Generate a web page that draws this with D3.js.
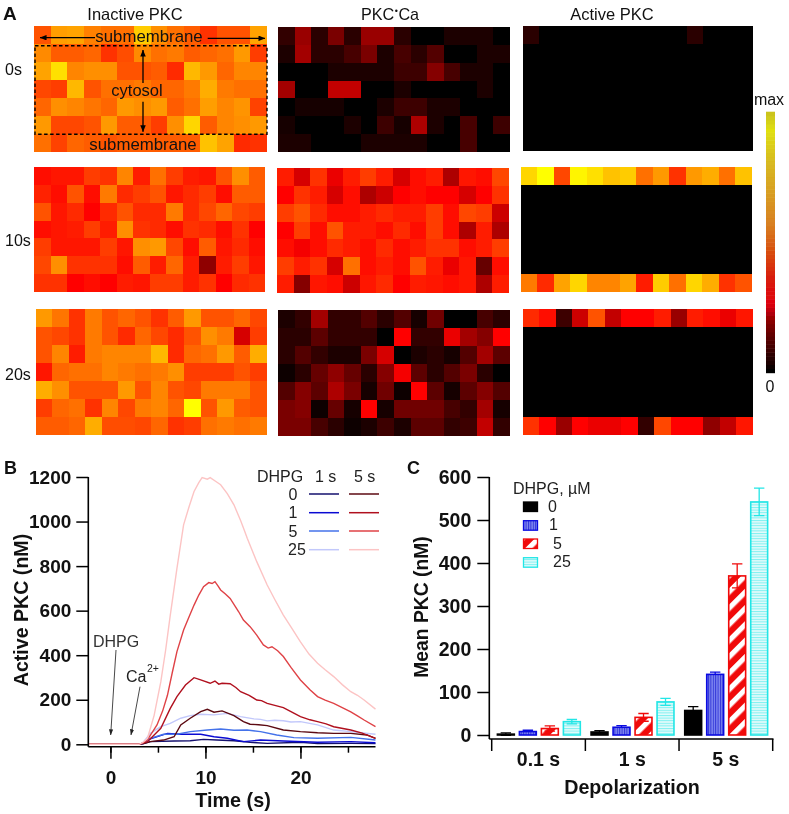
<!DOCTYPE html>
<html><head><meta charset="utf-8">
<script src="https://d3js.org/d3.v7.min.js"></script>
<style>html,body{margin:0;padding:0;background:#fff}svg{display:block;filter:blur(0.3px)}text{font-family:"Liberation Sans",Arial,sans-serif}</style>
</head><body><svg id="c" width="789" height="814"></svg>
<script>
// ---------- Panel A data (0 = black, 50 = pure red, 100 = yellow) ----------
const inactive0 = [
[66,81,82,75,72,72,90,78,72,68,60,66,66,82],
[77,68,68,70,60,65,77,72,74,68,70,72,80,62],
[82,94,76,78,78,66,66,68,58,86,80,70,76,76],
[64,62,86,66,72,72,74,70,70,74,84,74,72,72],
[70,78,76,73,70,80,78,80,68,72,81,76,79,63],
[80,64,64,66,80,68,68,62,78,92,68,76,78,80],
[72,63,70,68,66,68,68,68,68,68,88,82,58,60]];
const complex0 = [
[10,30,8,24,8,30,30,8,0,0,6,6,6,0],
[6,32,8,8,14,24,6,14,8,16,0,0,6,6],
[0,0,0,6,6,6,6,12,12,26,14,6,6,0],
[32,0,0,38,38,0,0,6,0,0,0,0,6,0],
[0,4,4,4,0,0,6,12,12,6,6,0,0,0],
[4,0,0,0,6,0,12,4,34,6,0,14,0,12],
[5,5,0,0,0,5,5,5,5,0,0,14,0,0]];
const zeroRow = [0,0,0,0,0,0,0,0,0,0,0,0,0,0];
const active0 = [[8,0,0,0,0,0,0,0,0,0,8,0,0,0],zeroRow,zeroRow,zeroRow,zeroRow,zeroRow,zeroRow];
const inactive10 = [
[52,54,54,62,60,76,56,72,62,56,54,66,78,68],
[57,52,66,52,74,58,62,66,54,58,62,52,68,68],
[66,54,58,50,58,66,58,58,74,58,64,70,64,62],
[52,54,56,62,56,78,60,58,52,60,58,52,60,50],
[62,54,54,54,62,54,78,80,64,52,68,54,58,52],
[64,78,60,60,60,52,68,56,70,56,28,56,62,54],
[60,60,50,53,50,56,54,62,62,56,60,50,58,60]];
const complex10 = [
[56,42,60,46,56,62,56,42,52,56,34,54,52,64],
[50,60,56,42,52,34,40,50,52,50,50,42,50,60],
[62,66,58,52,52,56,58,56,56,62,52,64,62,40],
[50,62,52,66,56,56,52,58,52,62,52,34,56,34],
[52,48,52,58,56,52,58,52,56,60,60,52,56,62],
[62,56,60,42,72,52,56,52,66,56,46,54,20,52],
[56,26,54,52,40,54,58,50,56,54,52,54,34,56]];
const active10 = [
[92,100,64,98,94,88,90,72,80,60,80,84,72,88],zeroRow,zeroRow,zeroRow,zeroRow,zeroRow,
[74,58,82,92,76,76,82,55,90,72,92,84,60,66]];
const inactive20 = [
[80,73,60,74,66,70,66,60,68,80,66,66,70,64],
[66,64,60,74,66,58,70,64,58,66,78,74,42,62],
[66,76,55,74,76,76,76,86,58,70,72,80,68,84],
[54,70,72,72,76,74,72,74,78,62,62,62,66,62],
[84,78,66,66,66,80,66,76,66,64,74,74,74,66],
[62,70,72,60,76,64,74,76,70,100,66,80,68,66],
[68,68,70,84,65,65,64,70,60,62,72,74,72,74]];
const complex20 = [
[6,10,32,10,10,16,8,16,4,22,0,0,14,8],
[8,8,18,10,10,10,0,50,10,10,46,32,26,50],
[8,16,10,5,5,24,42,0,5,8,4,16,32,18],
[3,8,20,28,20,8,26,48,18,8,16,24,8,0],
[16,26,18,34,24,4,22,3,50,18,4,18,26,16],
[24,26,3,20,4,50,4,22,22,22,14,10,32,4],
[24,24,14,8,3,6,12,6,18,18,10,12,38,10]];
const active20 = [
[58,52,12,40,66,38,50,50,56,30,56,52,46,54],zeroRow,zeroRow,zeroRow,zeroRow,zeroRow,
[60,50,30,50,46,46,50,10,64,50,50,28,38,54]];
const columnTitles = ["Inactive PKC","PKC","Active PKC"];
const timeLabels = ["0s","10s","20s"];

// ---------- Panel B data ----------
const tRise = [-2.3,0,2,3];
const t25_5 = [3.4,3.9,4.6,5.3,5.8,6.3,7,7.7,8.3,8.8,9.3,9.65,10.2,10.5,11.1,11.6,12.3,13,13.7,14.1,14.4,15.4,16.5,17.3,18.2,19.1,20,20.9,21.8,22.6,23.5,24.4,25.3,26,26.7,27.9];
const v25_5 = [8,27,130,280,420,580,790,985,1070,1135,1175,1197,1190,1197,1180,1165,1125,1075,1005,960,925,820,715,650,580,520,460,405,364,335,304,268,236,220,199,158];
const t5_5 = [3.4,3.9,4.9,5.5,6,6.5,7,7.7,8.3,8.8,9.3,9.8,10.35,10.7,11,11.3,11.6,12.1,12.6,13.5,14,14.7,15.4,16.1,16.6,17,17.6,18.2,19,20,21,21.8,22.6,23.5,24.4,25.3,26,26.7,27.9];
const v5_5 = [6,20,87,150,220,320,416,513,575,625,670,708,726,722,730,712,693,675,655,595,558,528,490,446,432,438,420,394,345,289,245,214,198,184,165,146,128,109,79];
const t1_5 = [3.4,3.9,5.3,6.3,7,7.9,8.8,9.5,10.5,11,11.4,11.75,12.6,13.2,13.7,14.6,15.4,15.9,16.5,18.2,19.2,20,21,21.8,22.7,23.5,25.3,26.5,27.9];
const v1_5 = [5,12,72,161,214,266,299,289,274,284,270,274,272,255,236,220,199,196,184,165,142,124,110,102,92,79,64,50,27];
const t0_5 = [3.5,4.2,5.6,6.7,7.4,8.4,9.5,10.2,10.9,11.75,13,14,14.7,15.6,16.5,18.2,20,21.8,23.5,25.3,27,27.9];
const v0_5 = [3,12,19,34,87,117,147,157,144,150,129,102,90,88,84,64,57,52,49,49,42,27];
const t25_1 = [3.4,4.2,5.3,6.3,7.4,8.4,9.5,10.9,12.3,13.7,15.1,15.8,16.5,17.3,18.2,19,20,21.8,23.5,25.3,27.9];
const v25_1 = [6,49,79,94,117,129,135,132,139,124,114,112,105,108,106,100,102,87,64,57,45];
const t5_1 = [3.5,4.2,5.6,7,8.4,10.2,11.6,13,14.4,15.8,17.5,19.3,21.8,25.3,27.9];
const v5_1 = [5,27,45,45,57,64,69,63,64,57,42,30,27,31,19];
const t1_1 = [3.5,4.2,6,7.4,9.5,10.9,12.3,14,15.8,18.2,21.8,25.3,27.9];
const v1_1 = [4,24,49,45,45,34,27,12,19,15,9,12,7];
const t0_1 = [3.5,4.2,6.7,8.4,9.8,11.2,13,14.7,16.5,20,21.8,25.3,27.9];
const v0_1 = [3,12,15,16,22,19,16,9,4,9,3,4,3];
const doses = ["0","1","5","25"];
const colors1s = ["#14106e","#0a0ad2","#4472ea","#c2c8fb"];
const colors5s = ["#5c0a12","#b0101e","#df4246","#fcc4c4"];
const yTicksB = [0,200,400,600,800,1000,1200];
const xTicksB = [0,10,20];
const xMinorB = [0,5,10,15,20,25];

// ---------- Panel C data ----------
const groups = ["0.1 s","1 s","5 s"];
const dose0  = [2,7,57];
const dose1  = [8,18,141];
const dose5  = [15,41,370];
const dose25 = [31,77,542];
const err0  = [3,3,9];
const err1  = [3,4,5];
const err5  = [6,9,28];
const err25 = [5,8,32];
const yTicksC = [0,100,200,300,400,500,600];
const barStroke = ["#000000","#0a0ae0","#f00a0a","#22e6e6"];

const svg = d3.select("#c");
const defs = svg.append("defs");
defs.append("filter").attr("id","soft").attr("x","-2%").attr("y","-2%").attr("width","104%").attr("height","104%")
  .append("feGaussianBlur").attr("stdDeviation",0.6);
const ptn = (id,w,h,rot,bg,draw)=>{
  const p = defs.append("pattern").attr("id",id).attr("patternUnits","userSpaceOnUse").attr("width",w).attr("height",h);
  if(rot) p.attr("patternTransform",`rotate(${rot})`);
  p.append("rect").attr("width",w).attr("height",h).attr("fill",bg);
  draw(p);
};
ptn("pBlue",2.4,4,0,"#8088f0",p=>p.append("rect").attr("width",1).attr("height",4).attr("fill","#3034d8"));
ptn("pRed",11.5,10,45,"#f00a0a",p=>p.append("rect").attr("width",5.2).attr("height",10).attr("fill","#fff"));
ptn("pCyan",4,2.6,0,"#e4fbfb",p=>p.append("rect").attr("width",4).attr("height",1).attr("fill","#80f0f0"));
const fills = ["#000","url(#pBlue)","url(#pRed)","url(#pCyan)"];

// ---------- Panel A ----------
const heat = d3.scaleLinear().domain([0,50,100]).range(["#000000","#ff0000","#ffff00"]).interpolate(d3.interpolateRgb);
const panels = [
 {d:inactive0, x:[34,267], y:[26,152]},
 {d:complex0,  x:[278,510],y:[27,152]},
 {d:active0,   x:[522.7,752.7],y:[26,151]},
 {d:inactive10,x:[34,265], y:[167,292]},
 {d:complex10, x:[277,509],y:[168,293]},
 {d:active10,  x:[520.5,752],y:[167,292]},
 {d:inactive20,x:[35.5,267],y:[309,435]},
 {d:complex20, x:[278,510],y:[310,436]},
 {d:active20,  x:[522.7,752.7],y:[309,435]}];
panels.forEach(p=>{
  const xs = d3.scaleBand().domain(d3.range(14)).range(p.x);
  const ys = d3.scaleBand().domain(d3.range(7)).range(p.y);
  const g = svg.append("g").attr("filter","url(#soft)");
  p.d.forEach((row,r)=>g.selectAll(null).data(row).join("rect")
    .attr("x",(v,c)=>xs(c)).attr("y",ys(r))
    .attr("width",(v,c)=>xs.bandwidth()+(c<13?1:0)).attr("height",ys.bandwidth()+(r<6?1:0))
    .attr("shape-rendering","crispEdges")
    .attr("fill",v=>heat(v)));
});
const txt=(x,y,s,size,o={})=>{
  const t = svg.append("text").attr("x",x).attr("y",y).text(s).attr("font-size",size)
   .attr("fill",o.fill||"#111").attr("text-anchor",o.anchor||"start").attr("dominant-baseline","central");
  if(o.bold) t.attr("font-weight","bold");
  if(o.rotate) t.attr("transform",`rotate(${o.rotate} ${x} ${y})`);
  return t;
};
txt(3,13,"A",19,{bold:true}); txt(4,468,"B",18,{bold:true}); txt(407,468,"C",18,{bold:true});
txt(135,14,columnTitles[0],16.5,{anchor:"middle"});
const pk = txt(390,14,columnTitles[1],16.2,{anchor:"middle"});
pk.append("tspan").text("•").attr("font-size",9).attr("dy",-3).attr("dx",0.5);
pk.append("tspan").text("Ca").attr("dy",3).attr("dx",0.5);
txt(612,14,columnTitles[2],16.5,{anchor:"middle"});
[[5,69],[5,240],[5,374]].forEach((p,i)=>txt(p[0],p[1],timeLabels[i],16));

// overlay on the first panel
defs.append("marker").attr("id","ah").attr("viewBox","0 0 10 8").attr("refX",9.5).attr("refY",4)
  .attr("markerWidth",7).attr("markerHeight",5.5).attr("markerUnits","userSpaceOnUse").attr("orient","auto")
  .append("path").attr("d","M0,0L10,4L0,8Z").attr("fill","#000");
defs.append("marker").attr("id","ah2").attr("viewBox","0 0 10 8").attr("refX",9.5).attr("refY",4)
  .attr("markerWidth",6).attr("markerHeight",6).attr("markerUnits","userSpaceOnUse").attr("orient","auto")
  .append("path").attr("d","M0,0.5L10,4L0,7.5Z").attr("fill","#222");
svg.append("rect").attr("x",35).attr("y",45.7).attr("width",232).attr("height",88.6)
  .attr("fill","none").attr("stroke","#000").attr("stroke-width",1.4).attr("stroke-dasharray","3.5 2.5");
const arrow=(x1,y1,x2,y2,m="ah",w=1.3)=>svg.append("line").attr("x1",x1).attr("y1",y1).attr("x2",x2).attr("y2",y2)
  .attr("stroke",m==="ah"?"#000":"#333").attr("stroke-width",w).attr("marker-end",`url(#${m})`);
arrow(95,37.7,40,37.7); arrow(207.7,38.3,265,38.3); arrow(143,83,143,50); arrow(143,101.7,143,131.7);
txt(149,36.7,"submembrane",16.8,{anchor:"middle"});
txt(137,90,"cytosol",16.5,{anchor:"middle"});
txt(143,144,"submembrane",16.8,{anchor:"middle"});

// colour bar
const barPos = [0,0.19,0.265,0.37,0.47,0.57,0.70,0.83,0.93,1];
const barCol = ["#000000","#800000","#e00010","#d82010","#d85010","#d88020","#d8a020","#d8c020","#e0e010","#c8c020"];
const cb = d3.scaleLinear().domain(barPos).range(barCol);
const cbY = d3.scaleLinear().domain([0,1]).range([372.7,111.7]);
const cbBands = d3.range(64);
svg.append("g").attr("filter","url(#soft)").selectAll("rect").data(cbBands).join("rect")
  .attr("x",766).attr("width",9)
  .attr("y",i=>cbY((i+1)/64)).attr("height",i=>cbY(i/64)-cbY((i+1)/64)+0.5)
  .attr("fill",i=>cb((i+0.5)/64));
txt(769,99,"max",16,{anchor:"middle"});
txt(770,386,"0",16,{anchor:"middle"});

// ---------- Panel B ----------
const xB = d3.scaleLinear().domain([-2.33,27.9]).range([88.3,375.5]);
const yB = d3.scaleLinear().domain([0,1200]).range([744.3,477]);
const line = d3.line().x(d=>xB(d[0])).y(d=>yB(d[1]));
const lineData = (ts,vs)=>tRise.map(t=>[t,0]).concat(ts.map((t,i)=>[t,vs[i]]));
const seriesB = [
 [t0_1,v0_1,colors1s[0]],[t1_1,v1_1,colors1s[1]],[t5_1,v5_1,colors1s[2]],[t25_1,v25_1,colors1s[3]],
 [t0_5,v0_5,colors5s[0]],[t1_5,v1_5,colors5s[1]],[t5_5,v5_5,colors5s[2]],[t25_5,v25_5,colors5s[3]]];
seriesB.forEach(s=>svg.append("path").attr("d",line(lineData(s[0],s[1])))
  .attr("fill","none").attr("stroke",s[2]).attr("stroke-width",1.4));
const yAxB = d3.axisLeft(yB).tickValues(yTicksB).tickSize(12).tickPadding(5).tickFormat(d3.format("d"));
const gy = svg.append("g").attr("transform","translate(88.3,0)").call(yAxB);
const xAxMinor = d3.axisBottom(xB).tickValues(xMinorB).tickSize(6).tickFormat("");
const xAxB = d3.axisBottom(xB).tickValues(xTicksB).tickSize(12).tickPadding(12);
const gx1 = svg.append("g").attr("transform","translate(0,746.7)").call(xAxMinor);
const gx = svg.append("g").attr("transform","translate(0,746.7)").call(xAxB);
[gy,gx,gx1].forEach(g=>{
  g.selectAll("line").attr("stroke","#000").attr("stroke-width",1.5);
  g.selectAll("text").attr("font-size",19).attr("font-weight","bold").attr("fill","#111");
  g.select(".domain").attr("stroke","#000").attr("stroke-width",1.6).attr("d",null);
});
gy.select(".domain").attr("d","M0,477V746.7");
gx.select(".domain").attr("d","M88.3,0H375.5");
gx1.select(".domain").remove();
txt(233,800,"Time (s)",19.8,{anchor:"middle",bold:true});
txt(21,610,"Active PKC (nM)",19.6,{anchor:"middle",bold:true,rotate:-90});
txt(116,641,"DHPG",16,{anchor:"middle",fill:"#333"});
arrow(116,650,110.7,735,"ah2",0.9);
txt(126,676,"Ca",16,{fill:"#222"});
txt(147,668,"2+",10.5,{fill:"#222"});
arrow(140,686.7,131,735,"ah2",0.9);
txt(257,476,"DHPG",16,{fill:"#222"});
txt(315,476,"1 s",16,{fill:"#222"});
txt(354,476,"5 s",16,{fill:"#222"});
const legY = [494,512.7,531,549.7];
const legLab = [293,293,293,297];
doses.forEach((d,i)=>{
  txt(legLab[i],legY[i],d,16,{anchor:"middle",fill:"#222"});
  svg.append("line").attr("x1",309).attr("x2",339).attr("y1",legY[i]).attr("y2",legY[i]).attr("stroke",colors1s[i]).attr("stroke-width",1.5);
  svg.append("line").attr("x1",349).attr("x2",379).attr("y1",legY[i]).attr("y2",legY[i]).attr("stroke",colors5s[i]).attr("stroke-width",1.5);
});

// ---------- Panel C ----------
const seriesC = [dose0,dose1,dose5,dose25];
const errC = [err0,err1,err5,err25];
const xC = d3.scaleBand().domain(groups).range([491.7,772.7]);
const xInner = d3.scaleBand().domain(doses).range([5,89.3]).paddingInner(0.168);
const yC = d3.scaleLinear().domain([0,600]).range([735,477]);
seriesC.forEach((vals,s)=>{
  const g = svg.append("g");
  const cx = i=>xC(groups[i])+xInner(doses[s])+xInner.bandwidth()/2;
  g.selectAll(".e").data(vals).join("path")
    .attr("d",(v,i)=>{const e=errC[s][i],w=5.2;
      return `M${cx(i)-w},${yC(v+e)}H${cx(i)+w}M${cx(i)},${yC(v+e)}V${yC(v-e)}M${cx(i)-w},${yC(v-e)}H${cx(i)+w}`;})
    .attr("fill","none").attr("stroke",barStroke[s]).attr("stroke-width",1.3);
  g.selectAll(".b").data(vals).join("rect")
    .attr("x",(v,i)=>cx(i)-xInner.bandwidth()/2+0.7).attr("width",xInner.bandwidth()-1.4)
    .attr("y",v=>yC(v)).attr("height",v=>yC(0)-yC(v))
    .attr("fill",fills[s]).attr("stroke",barStroke[s]).attr("stroke-width",1.6);
  g.selectAll(".e2").data(vals).join("path")
    .attr("d",(v,i)=>{const e=errC[s][i],w=5.2;
      return s>=2?`M${cx(i)},${yC(v)}V${yC(v-e)}M${cx(i)-w},${yC(v-e)}H${cx(i)+w}`:"";})
    .attr("fill","none").attr("stroke",barStroke[s]).attr("stroke-width",1.3);
});
const gyC = svg.append("g").attr("transform","translate(489.3,0)")
  .call(d3.axisLeft(yC).tickValues(yTicksC).tickSize(12).tickPadding(6));
gyC.select(".domain").attr("d","M0,477V739");
const gxC = svg.append("g").attr("transform","translate(0,739)")
  .call(d3.axisBottom(xC).tickSize(0).tickPadding(13));
gxC.select(".domain").attr("d","M489.3,0H773.5");
gxC.selectAll(".tick").select("line").remove();
const groupEdges = groups.map(g=>xC(g)).concat([xC.range()[1]]);
gxC.selectAll(".edge").data(groupEdges).join("line").attr("class","edge").attr("x1",d=>d).attr("x2",d=>d).attr("y1",0).attr("y2",12);
[gyC,gxC].forEach(g=>{
  g.selectAll("line").attr("stroke","#000").attr("stroke-width",1.5);
  g.selectAll("text").attr("font-size",19.5).attr("font-weight","bold").attr("fill","#111");
  g.select(".domain").attr("stroke","#000").attr("stroke-width",1.6);
});
txt(632,787,"Depolarization",19.7,{anchor:"middle",bold:true});
txt(421,607,"Mean PKC (nM)",19.3,{anchor:"middle",bold:true,rotate:-90});
txt(513,488,"DHPG, µM",16,{fill:"#222"});
const swY = [502,520.7,539,557.7];
const labX = [548,549,553,553];
const labY = [506.5,524,543,561.5];
doses.forEach((d,i)=>{
  svg.append("rect").attr("x",523.5).attr("y",swY[i]).attr("width",14).attr("height",9.5)
    .attr("fill",fills[i]).attr("stroke",barStroke[i]).attr("stroke-width",1.3);
  txt(labX[i],labY[i],d,16,{fill:"#222"});
});
</script></body></html>
